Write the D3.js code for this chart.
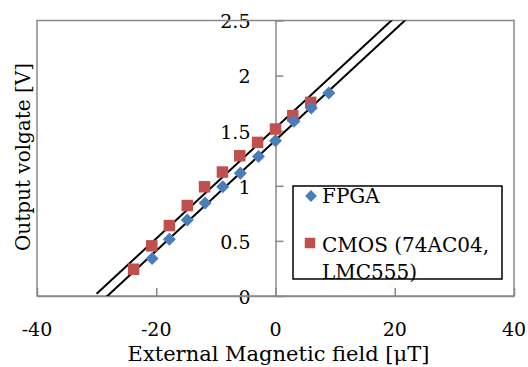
<!DOCTYPE html>
<meta charset="utf-8">
<head>
    <meta charset="UTF-8"/>
    <title>Output voltage vs external field</title>
    <script src="https://cdnjs.cloudflare.com/ajax/libs/d3/7.8.5/d3.min.js"></script>
    <style>
        body {
            margin: 0;
            background: #fff;
        }

        text {
            font-family: 'DejaVu Serif', serif;
            fill: #000;
        }

        .frame {
            fill: none;
            stroke: #898989;
            stroke-width: 1.5;
        }

        .axis path, .axis line {
            stroke: #898989;
            stroke-width: 1.5;
        }

        .trend {
            fill: none;
            stroke: #000;
            stroke-width: 2;
        }

        text.tick-label {
            font-size: 19px;
        }

        text.x-title {
            font-size: 21px;
        }

        text.y-title {
            font-size: 20px;
        }

        text.legend {
            font-size: 20px;
        }
    </style>
</head>

<body>
<svg width="528" height="367"></svg>

<script>
    // values
    const fieldFpga = [-20.7, -17.8, -14.8, -11.8, -8.85, -5.9, -2.85, 0, 3.1, 6.0, 8.95];
    const voltFpga = [0.34, 0.515, 0.69, 0.843, 0.991, 1.115, 1.266, 1.409, 1.585, 1.706, 1.843];

    const fieldCmos = [-23.8, -20.75, -17.8, -14.8, -11.9, -8.9, -6.0, -3.0, 0, 2.9, 5.9];
    const voltCmos = [0.243, 0.455, 0.639, 0.821, 0.991, 1.125, 1.273, 1.394, 1.515, 1.636, 1.757];

    const xTicks = [-40, -20, 0, 20, 40];
    const yTicks = [0, 0.5, 1, 1.5, 2, 2.5];
    const xDomain = [-40, 40];
    const yDomain = [0, 2.5];
    const trendFrom = -30;   // backward forecast of the trend lines

    const xLabel = 'External Magnetic field [μT]';
    const yLabel = 'Output volgate [V]';
    const legendFpga = 'FPGA';
    const legendCmos = ['CMOS (74AC04,', 'LMC555)'];

    const blue = '#4a7ebb';
    const red = '#c0504d';

    const svg = d3.select('svg');

    const plotL = 37, plotR = 514, plotT = 20.5, plotB = 296;

    const x = d3.scaleLinear().domain(xDomain).range([plotL, plotR]);
    const y = d3.scaleLinear().domain(yDomain).range([plotB, plotT]);

    // least squares line, like the spreadsheet trendline
    function fit(xs, ys) {
        const mx = d3.mean(xs), my = d3.mean(ys);
        let sxy = 0, sxx = 0;
        xs.forEach((v, i) => {
            sxy += (v - mx) * (ys[i] - my);
            sxx += (v - mx) * (v - mx);
        });
        const slope = sxy / sxx;
        return {slope: slope, icept: my - slope * mx};
    }

    svg.append('clipPath').attr('id', 'plot')
        .append('rect')
        .attr('x', plotL).attr('y', plotT)
        .attr('width', plotR - plotL).attr('height', plotB - plotT);

    // y axis crosses at x = 0: ticks to the right, labels to the left
    svg.append('g')
        .attr('class', 'axis')
        .attr('transform', `translate(${x(0)},0)`)
        .call(d3.axisRight(y).tickValues(yTicks).tickSize(8).tickSizeOuter(0).tickFormat(''));

    svg.append('g')
        .selectAll('text')
        .data(yTicks)
        .enter()
        .append('text')
        .attr('class', 'tick-label')
        .attr('x', x(0) - 25)
        .attr('y', (d) => y(d) + 1)
        .attr('dy', '0.36em')
        .attr('text-anchor', 'end')
        .text((d) => String(d));

    // x axis along the bottom, ticks pointing up
    svg.append('g')
        .attr('class', 'axis')
        .attr('transform', `translate(0,${plotB})`)
        .call(d3.axisTop(x).tickValues(xTicks).tickSize(8).tickSizeOuter(0).tickFormat(''));

    svg.append('g')
        .selectAll('text')
        .data(xTicks)
        .enter()
        .append('text')
        .attr('class', 'tick-label')
        .attr('x', (d) => x(d))
        .attr('y', 336)
        .attr('text-anchor', 'middle')
        .text((d) => String(d));

    svg.append('rect')
        .attr('class', 'frame')
        .attr('x', plotL).attr('y', plotT)
        .attr('width', plotR - plotL).attr('height', plotB - plotT);

    // trend lines
    const lines = svg.append('g').attr('clip-path', 'url(#plot)');
    [[fieldCmos, voltCmos], [fieldFpga, voltFpga]].forEach(([xs, ys]) => {
        const f = fit(xs, ys);
        const ends = [trendFrom, xDomain[1]];
        lines.append('path')
            .attr('class', 'trend')
            .attr('d', d3.line()(ends.map((v) => [x(v), y(f.icept + f.slope * v)])));
    });

    const diamond = d3.symbol(d3.symbolSquare, 85);
    const square = d3.symbol(d3.symbolSquare, 132);

    svg.append('g')
        .selectAll('path')
        .data(fieldCmos)
        .enter()
        .append('path')
        .attr('d', square)
        .attr('fill', red)
        .attr('transform', (d, i) => `translate(${x(d)},${y(voltCmos[i])})`);

    svg.append('g')
        .selectAll('path')
        .data(fieldFpga)
        .enter()
        .append('path')
        .attr('d', diamond)
        .attr('fill', blue)
        .attr('transform', (d, i) => `translate(${x(d)},${y(voltFpga[i])}) rotate(45)`);

    // legend
    const lg = svg.append('g');
    lg.append('rect')
        .attr('x', 293).attr('y', 186).attr('width', 209).attr('height', 93)
        .attr('fill', '#fff');
    lg.append('path')
        .attr('d', d3.symbol(d3.symbolSquare, 70))
        .attr('fill', blue)
        .attr('transform', 'translate(311,196) rotate(45)');
    lg.append('text').attr('class', 'legend')
        .attr('x', 322).attr('y', 203).text(legendFpga);
    lg.append('path')
        .attr('d', d3.symbol(d3.symbolSquare, 110))
        .attr('fill', red)
        .attr('transform', 'translate(310,243)');
    lg.append('text').attr('class', 'legend')
        .attr('x', 322).attr('y', 252).text(legendCmos[0]);
    lg.append('text').attr('class', 'legend')
        .attr('x', 322).attr('y', 279).text(legendCmos[1]);
    lg.append('rect')
        .attr('x', 293).attr('y', 186).attr('width', 209).attr('height', 93)
        .attr('fill', 'none').attr('stroke', '#000').attr('stroke-width', 1.5);

    svg.append('text')
        .attr('class', 'x-title')
        .attr('x', x(0) + 3)
        .attr('y', 361)
        .attr('text-anchor', 'middle')
        .text(xLabel);

    svg.append('text')
        .attr('class', 'y-title')
        .attr('transform', 'translate(30,157) rotate(-90)')
        .attr('text-anchor', 'middle')
        .text(yLabel);
</script>
</body>
